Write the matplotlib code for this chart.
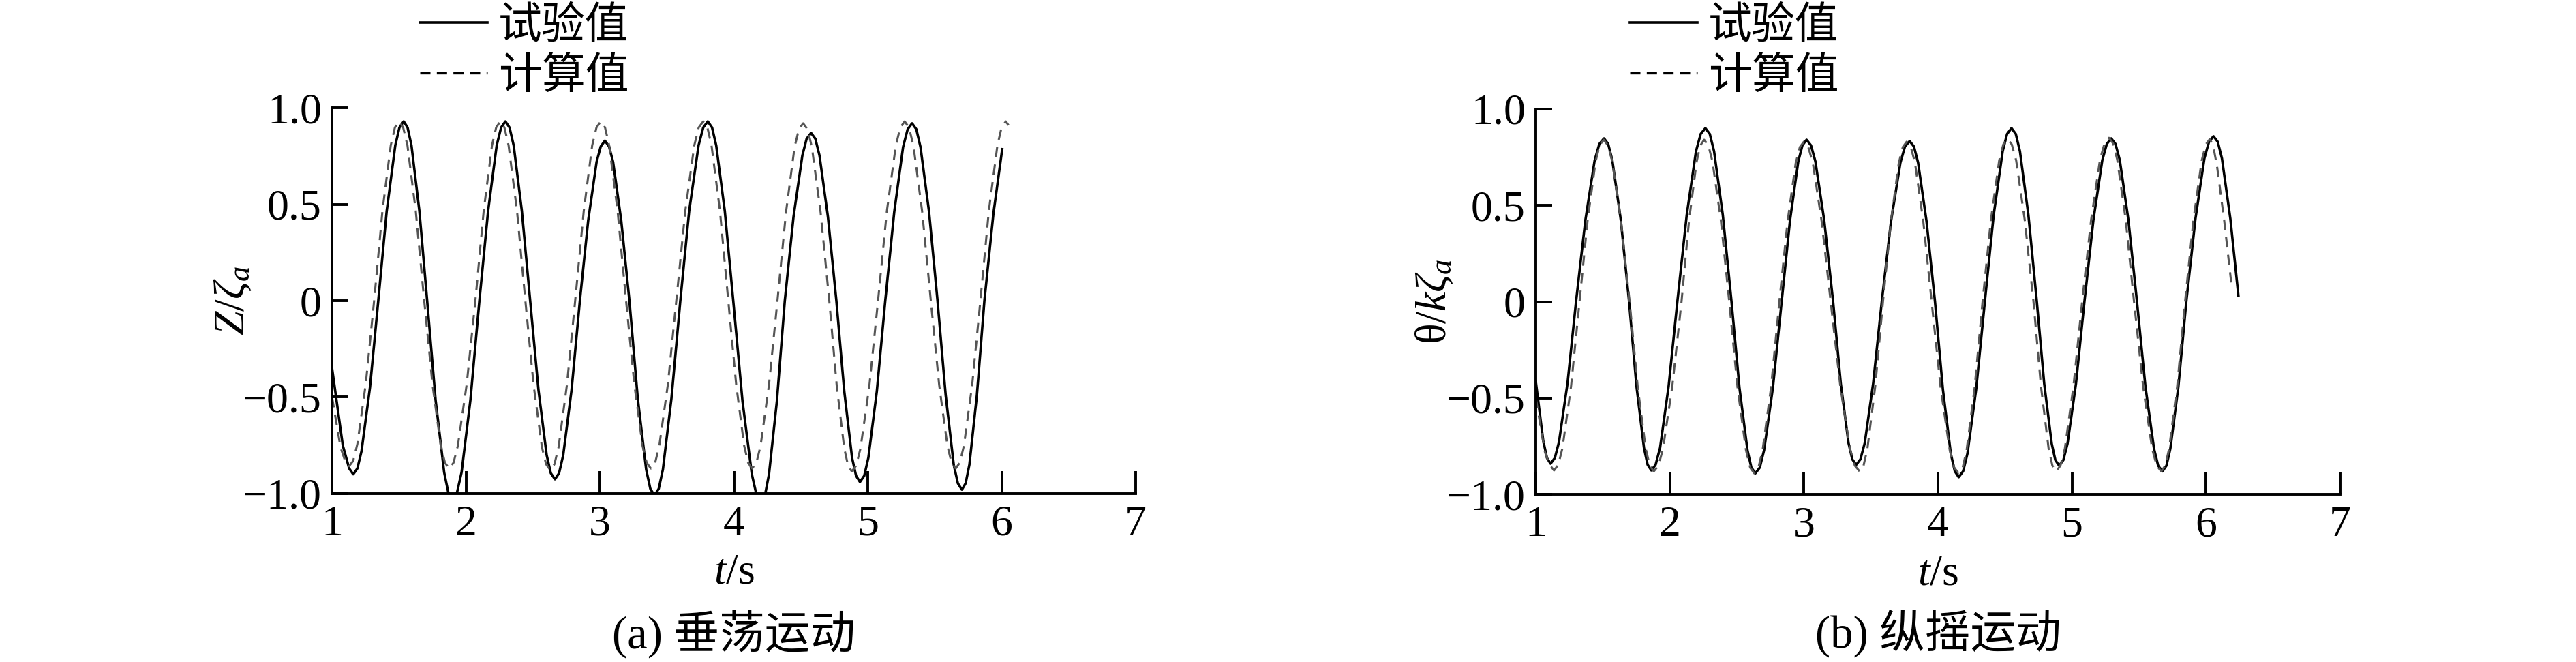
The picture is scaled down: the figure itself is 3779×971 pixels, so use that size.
import matplotlib
matplotlib.use("Agg")
import matplotlib.pyplot as plt
from matplotlib.lines import Line2D
from matplotlib.ticker import FixedLocator, FixedFormatter

plt.rcParams['font.family'] = ['Liberation Serif', 'Noto Sans CJK SC']
plt.rcParams['mathtext.fontset'] = 'custom'
plt.rcParams['mathtext.rm'] = 'Liberation Serif'
plt.rcParams['mathtext.it'] = 'Liberation Serif:italic'
plt.rcParams['axes.unicode_minus'] = True

# (a) heave: time (s) and Z/zeta_a (one half-cycle per line)
heave_exp_t = [1.000, 1.080, 1.128, 1.158, 1.189, 1.220, 1.283, 1.345,
               1.408, 1.472, 1.503, 1.535, 1.564, 1.593, 1.652, 1.710,
               1.773, 1.837, 1.868, 1.900, 1.933, 1.967, 2.033, 2.100,
               2.165, 2.229, 2.262, 2.294, 2.325, 2.356, 2.417, 2.479,
               2.541, 2.602, 2.633, 2.664, 2.695, 2.726, 2.788, 2.850,
               2.912, 2.975, 3.006, 3.037, 3.068, 3.098, 3.159, 3.220,
               3.282, 3.345, 3.376, 3.407, 3.439, 3.470, 3.534, 3.600,
               3.666, 3.736, 3.771, 3.805, 3.837, 3.868, 3.932, 3.995,
               4.064, 4.134, 4.168, 4.203, 4.233, 4.262, 4.321, 4.380,
               4.445, 4.511, 4.543, 4.576, 4.608, 4.639, 4.702, 4.765,
               4.824, 4.882, 4.912, 4.941, 4.973, 5.004, 5.067, 5.130,
               5.197, 5.263, 5.297, 5.330, 5.362, 5.393, 5.457, 5.520,
               5.581, 5.641, 5.672, 5.702, 5.730, 5.758, 5.814, 5.870,
               5.937, 6.003]
heave_exp_v = [-0.35, -0.75, -0.87, -0.90, -0.87, -0.78, -0.45, 0.0,
               0.465, 0.805, 0.898, 0.93, 0.898, 0.805, 0.465, 0.0,
               -0.515, -0.89, -0.995, -1.03, -0.995, -0.89, -0.515, 0.0,
               0.465, 0.805, 0.898, 0.93, 0.898, 0.805, 0.465, 0.0,
               -0.463, -0.80, -0.894, -0.926, -0.894, -0.80, -0.463, 0.0,
               0.415, 0.72, 0.80, 0.83, 0.80, 0.72, 0.415, 0.0,
               -0.505, -0.875, -0.975, -1.01, -0.975, -0.875, -0.505, 0.0,
               0.465, 0.805, 0.898, 0.93, 0.898, 0.805, 0.465, 0.0,
               -0.52, -0.90, -1.005, -1.04, -1.005, -0.90, -0.52, 0.0,
               0.435, 0.753, 0.84, 0.87, 0.84, 0.753, 0.435, 0.0,
               -0.47, -0.814, -0.908, -0.94, -0.908, -0.814, -0.47, 0.0,
               0.46, 0.797, 0.889, 0.92, 0.889, 0.797, 0.46, 0.0,
               -0.49, -0.85, -0.947, -0.98, -0.947, -0.85, -0.49, 0.0,
               0.45, 0.786]

heave_cal_t = [1.000, 1.063, 1.097, 1.127, 1.158, 1.189, 1.252, 1.314,
               1.376, 1.438, 1.469, 1.500, 1.531, 1.563, 1.625, 1.688,
               1.750, 1.812, 1.843, 1.874, 1.907, 1.939, 2.005, 2.070,
               2.132, 2.194, 2.225, 2.256, 2.287, 2.318, 2.381, 2.443,
               2.505, 2.567, 2.598, 2.629, 2.660, 2.691, 2.753, 2.815,
               2.879, 2.942, 2.974, 3.006, 3.038, 3.069, 3.132, 3.195,
               3.257, 3.318, 3.349, 3.380, 3.412, 3.443, 3.507, 3.570,
               3.637, 3.704, 3.737, 3.771, 3.802, 3.833, 3.896, 3.958,
               4.017, 4.077, 4.106, 4.136, 4.168, 4.199, 4.262, 4.325,
               4.389, 4.453, 4.485, 4.517, 4.550, 4.582, 4.647, 4.712,
               4.768, 4.824, 4.852, 4.880, 4.913, 4.945, 5.011, 5.076,
               5.142, 5.209, 5.242, 5.275, 5.307, 5.340, 5.405, 5.470,
               5.532, 5.594, 5.625, 5.656, 5.686, 5.717, 5.779, 5.840,
               5.903, 5.967, 5.998, 6.030, 6.050]
heave_cal_v = [-0.50, -0.76, -0.83, -0.858, -0.83, -0.743, -0.429, 0.0,
               0.465, 0.805, 0.898, 0.93, 0.898, 0.805, 0.465, 0.0,
               -0.435, -0.753, -0.84, -0.87, -0.84, -0.753, -0.435, 0.0,
               0.465, 0.805, 0.898, 0.93, 0.898, 0.805, 0.465, 0.0,
               -0.439, -0.76, -0.848, -0.878, -0.848, -0.76, -0.439, 0.0,
               0.465, 0.805, 0.898, 0.93, 0.898, 0.805, 0.465, 0.0,
               -0.435, -0.753, -0.84, -0.87, -0.84, -0.753, -0.435, 0.0,
               0.465, 0.805, 0.898, 0.93, 0.898, 0.805, 0.465, 0.0,
               -0.435, -0.753, -0.84, -0.87, -0.84, -0.753, -0.435, 0.0,
               0.46, 0.797, 0.889, 0.92, 0.889, 0.797, 0.46, 0.0,
               -0.443, -0.766, -0.855, -0.885, -0.855, -0.766, -0.443, 0.0,
               0.465, 0.805, 0.898, 0.93, 0.898, 0.805, 0.465, 0.0,
               -0.435, -0.753, -0.84, -0.87, -0.84, -0.753, -0.435, 0.0,
               0.465, 0.805, 0.898, 0.93, 0.91]

# (b) pitch: time (s) and theta/(k zeta_a)
pitch_exp_t = [1.000, 1.055, 1.083, 1.110, 1.142, 1.173, 1.237, 1.300,
               1.370, 1.439, 1.474, 1.509, 1.540, 1.571, 1.634, 1.696,
               1.751, 1.807, 1.834, 1.862, 1.894, 1.927, 1.991, 2.056,
               2.126, 2.195, 2.230, 2.265, 2.298, 2.330, 2.395, 2.460,
               2.519, 2.579, 2.608, 2.638, 2.671, 2.703, 2.769, 2.834,
               2.896, 2.958, 2.989, 3.020, 3.053, 3.086, 3.152, 3.218,
               3.275, 3.333, 3.361, 3.390, 3.422, 3.454, 3.517, 3.581,
               3.650, 3.720, 3.754, 3.789, 3.821, 3.852, 3.915, 3.978,
               4.037, 4.096, 4.126, 4.155, 4.188, 4.220, 4.285, 4.350,
               4.416, 4.483, 4.516, 4.549, 4.581, 4.612, 4.675, 4.738,
               4.793, 4.849, 4.876, 4.904, 4.936, 4.967, 5.030, 5.093,
               5.160, 5.226, 5.260, 5.293, 5.325, 5.357, 5.421, 5.485,
               5.548, 5.612, 5.643, 5.675, 5.705, 5.734, 5.794, 5.853,
               5.921, 5.988, 6.022, 6.056, 6.088, 6.119, 6.182, 6.242]
pitch_exp_v = [-0.415, -0.72, -0.81, -0.84, -0.81, -0.727, -0.42, 0.0,
               0.424, 0.733, 0.818, 0.847, 0.818, 0.733, 0.424, 0.0,
               -0.438, -0.758, -0.845, -0.875, -0.845, -0.758, -0.438, 0.0,
               0.45, 0.78, 0.87, 0.90, 0.87, 0.78, 0.45, 0.0,
               -0.445, -0.77, -0.86, -0.89, -0.86, -0.77, -0.445, 0.0,
               0.42, 0.727, 0.811, 0.84, 0.811, 0.727, 0.42, 0.0,
               -0.423, -0.733, -0.817, -0.846, -0.817, -0.733, -0.423, 0.0,
               0.417, 0.721, 0.805, 0.833, 0.805, 0.721, 0.417, 0.0,
               -0.455, -0.788, -0.879, -0.91, -0.879, -0.788, -0.455, 0.0,
               0.45, 0.78, 0.87, 0.90, 0.87, 0.78, 0.45, 0.0,
               -0.425, -0.736, -0.821, -0.85, -0.821, -0.736, -0.425, 0.0,
               0.424, 0.733, 0.818, 0.847, 0.818, 0.733, 0.424, 0.0,
               -0.44, -0.762, -0.85, -0.88, -0.85, -0.762, -0.44, 0.0,
               0.429, 0.743, 0.829, 0.858, 0.829, 0.743, 0.429, 0.03]

pitch_cal_t = [1.000, 1.068, 1.102, 1.136, 1.168, 1.199, 1.263, 1.326,
               1.386, 1.446, 1.476, 1.506, 1.538, 1.571, 1.635, 1.700,
               1.760, 1.820, 1.850, 1.880, 1.915, 1.949, 2.018, 2.087,
               2.143, 2.200, 2.228, 2.256, 2.287, 2.318, 2.381, 2.443,
               2.505, 2.568, 2.599, 2.630, 2.661, 2.692, 2.755, 2.817,
               2.878, 2.939, 2.970, 3.000, 3.033, 3.067, 3.133, 3.200,
               3.272, 3.344, 3.380, 3.416, 3.445, 3.474, 3.532, 3.590,
               3.649, 3.708, 3.738, 3.767, 3.798, 3.829, 3.891, 3.953,
               4.020, 4.088, 4.121, 4.155, 4.185, 4.214, 4.274, 4.333,
               4.395, 4.457, 4.488, 4.519, 4.551, 4.584, 4.648, 4.713,
               4.769, 4.826, 4.854, 4.882, 4.914, 4.947, 5.011, 5.076,
               5.143, 5.209, 5.243, 5.276, 5.307, 5.338, 5.401, 5.463,
               5.531, 5.598, 5.632, 5.666, 5.696, 5.725, 5.785, 5.844,
               5.906, 5.968, 5.999, 6.030, 6.056, 6.083, 6.136, 6.188]
pitch_cal_v = [-0.50, -0.78, -0.845, -0.875, -0.845, -0.758, -0.438, 0.0,
               0.42, 0.727, 0.811, 0.84, 0.811, 0.727, 0.42, 0.0,
               -0.44, -0.762, -0.85, -0.88, -0.85, -0.762, -0.44, 0.0,
               0.42, 0.727, 0.811, 0.84, 0.811, 0.727, 0.42, 0.0,
               -0.445, -0.77, -0.86, -0.89, -0.86, -0.77, -0.445, 0.0,
               0.415, 0.719, 0.802, 0.83, 0.802, 0.719, 0.415, 0.0,
               -0.44, -0.762, -0.85, -0.88, -0.85, -0.762, -0.44, 0.0,
               0.415, 0.719, 0.802, 0.83, 0.802, 0.719, 0.415, 0.0,
               -0.445, -0.77, -0.86, -0.89, -0.86, -0.77, -0.445, 0.0,
               0.423, 0.732, 0.816, 0.845, 0.816, 0.732, 0.423, 0.0,
               -0.44, -0.762, -0.85, -0.88, -0.85, -0.762, -0.44, 0.0,
               0.425, 0.736, 0.821, 0.85, 0.821, 0.736, 0.425, 0.0,
               -0.44, -0.762, -0.85, -0.88, -0.85, -0.762, -0.44, 0.0,
               0.423, 0.732, 0.816, 0.845, 0.80, 0.70, 0.42, 0.10]

yticks = [-1.0, -0.5, 0.0, 0.5, 1.0]
yticklabels = ['\u22121.0', '\u22120.5', '0', '0.5', '1.0']
xticks = [1, 2, 3, 4, 5, 6, 7]
legend_labels = ['试验值', '计算值']

FS = 46

fig = plt.figure(figsize=(37.79, 9.71), dpi=100)
ax_a = fig.add_axes([0.1289, 0.2545, 0.3120, 0.5825])
ax_b = fig.add_axes([0.5962, 0.2530, 0.3122, 0.5825])

panels = [
    (ax_a, heave_exp_t, heave_exp_v, heave_cal_t, heave_cal_v, r'$Z/\zeta_a$', '(a) 垂荡运动', 0.163, -0.098),
    (ax_b, pitch_exp_t, pitch_exp_v, pitch_cal_t, pitch_cal_v, 'θ/$k\\zeta_a$', '(b) 纵摇运动', 0.6327, -0.100),
]

for ax, te, ve, tc, vc, ylab, cap, leg_x, ylab_x in panels:
    ax.plot(te, ve, color='black', lw=2.6, solid_joinstyle='round')
    ax.plot(tc, vc, color='#555555', lw=2.2, dashes=(5, 3.5), dash_joinstyle='round')
    ax.set_xlim(1, 7)
    ax.set_ylim(-1, 1)
    for s in ['top', 'right']:
        ax.spines[s].set_visible(False)
    for s in ['left', 'bottom']:
        ax.spines[s].set_linewidth(2.8)
    ax.xaxis.set_major_locator(FixedLocator(xticks))
    ax.yaxis.set_major_locator(FixedLocator(yticks))
    ax.yaxis.set_major_formatter(FixedFormatter(yticklabels))
    ax.tick_params(axis='both', direction='in', width=2.8, labelsize=FS)
    ax.tick_params(axis='y', length=17, pad=11)
    ax.tick_params(axis='x', length=24, pad=12)
    ax.set_xlabel(r'$t$/s', fontsize=FS)
    ax.xaxis.set_label_coords(0.5, -0.155)
    ax.set_ylabel(ylab, fontsize=FS)
    ax.yaxis.set_label_coords(ylab_x, 0.5)
    x_mid = (ax.get_position().x0 + ax.get_position().x1) / 2
    fig.text(x_mid, 0.042, cap, fontsize=48, ha='center', va='center')
    handles = [Line2D([], [], color='black', lw=2.6),
               Line2D([], [], color='black', lw=2.4, dashes=(4.5, 2.8))]
    fig.legend(handles, legend_labels, loc='center left', bbox_to_anchor=(leg_x, 0.921),
               frameon=False, fontsize=FS, handlelength=1.55, handletextpad=0.25,
               labelspacing=0.23, borderpad=0, borderaxespad=0)

fig.savefig('out.png', dpi=100)
